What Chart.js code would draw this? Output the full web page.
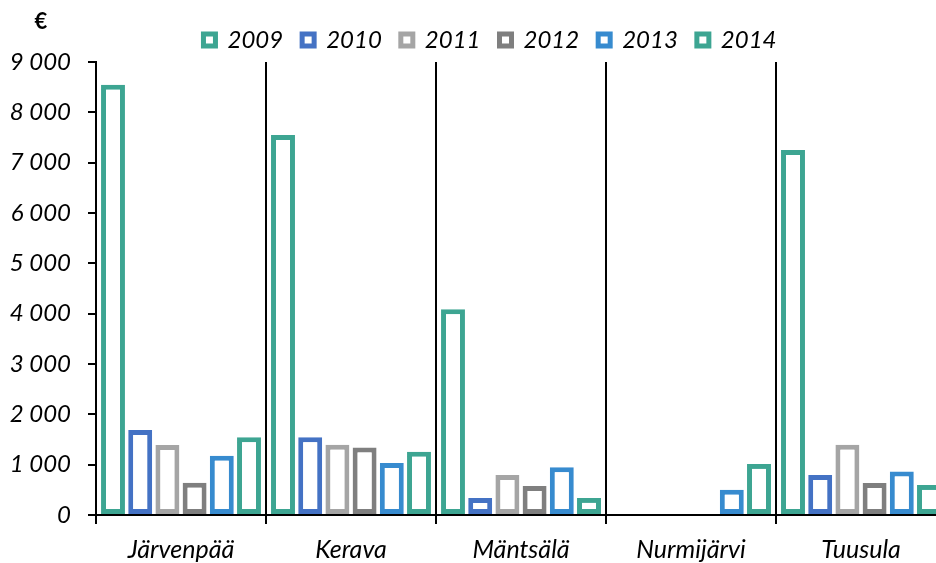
<!DOCTYPE html>
<html>
<head>
<meta charset="utf-8">
<script src="https://cdn.jsdelivr.net/npm/chart.js@4"></script>
<style>
  html, body { margin: 0; padding: 0; background: #fff; overflow: hidden; }
  #wrap { width: 960px; height: 563px; }
</style>
</head>
<body>
<div id="wrap"><canvas id="c" width="960" height="563"></canvas></div>
<script>
const categories = ['Järvenpää', 'Kerava', 'Mäntsälä', 'Nurmijärvi', 'Tuusula'];
const years = ['2009', '2010', '2011', '2012', '2013', '2014'];
const v2009 = [8550, 7550, 4090, null, 7250];
const v2010 = [1690, 1545, 340, null, 795];
const v2011 = [1390, 1395, 795, null, 1395];
const v2012 = [640, 1340, 575, null, 635];
const v2013 = [1175, 1035, 950, 500, 865];
const v2014 = [1545, 1255, 340, 1015, 597];
const yTicks = [0, 1000, 2000, 3000, 4000, 5000, 6000, 7000, 8000, 9000];
const unitLabel = '€';

const seriesValues = [v2009, v2010, v2011, v2012, v2013, v2014];
const seriesColors = ['#3da592', '#4472c4', '#a5a5a5', '#7f7f7f', '#378bcf', '#3da592'];

const FONT = 'Lato, "Open Sans", "DejaVu Sans", sans-serif';

const euroPlugin = {
  id: 'euro',
  afterLayout(chart) {
    // let the y tick labels use the full left margin instead of being clipped
    chart.scales.y.left = 0;
  },
  afterDraw(chart) {
    const {ctx, chartArea} = chart;
    ctx.save();
    ctx.font = 'bold 22px ' + FONT;
    ctx.fillStyle = '#000';
    ctx.textAlign = 'center';
    ctx.textBaseline = 'middle';
    ctx.fillText(unitLabel, chartArea.left - 55, chartArea.top - 40);
    ctx.restore();
  }
};

new Chart(document.getElementById('c'), {
  type: 'bar',
  data: {
    labels: categories,
    datasets: years.map((y, i) => ({
      label: y,
      data: seriesValues[i],
      backgroundColor: '#ffffff',
      borderColor: seriesColors[i],
      borderWidth: 5,
      borderSkipped: false,
      categoryPercentage: 0.96,
      barPercentage: 0.88
    }))
  },
  options: {
    responsive: false,
    animation: false,
    devicePixelRatio: 1,
    layout: { padding: { left: 34, right: 14, top: 9, bottom: 0 } },
    plugins: {
      tooltip: { enabled: false },
      legend: {
        position: 'top',
        labels: {
          boxWidth: 12,
          boxHeight: 12,
          padding: 19,
          color: '#000',
          font: { family: FONT, size: 24, style: 'italic' }
        }
      }
    },
    scales: {
      x: {
        z: 1,
        offset: true,
        grid: {
          offset: true,
          display: true,
          drawOnChartArea: true,
          drawTicks: true,
          tickLength: 9,
          color: '#000',
          lineWidth: 2
        },
        border: { display: true, color: '#000', width: 2 },
        ticks: {
          color: '#000',
          padding: 11,
          maxRotation: 0,
          font: { family: FONT, size: 25, style: 'italic' }
        },
        afterFit(scale) { scale.height = 48; }
      },
      y: {
        min: 0,
        max: 9000,
        afterBuildTicks(scale) { scale.ticks = yTicks.map(v => ({ value: v })); },
        grid: {
          drawOnChartArea: false,
          drawTicks: true,
          tickLength: 8,
          color: '#000',
          lineWidth: 2
        },
        border: { display: true, color: '#000', width: 2 },
        ticks: {
          color: '#000',
          padding: 17,
          font: { family: FONT, size: 24, style: 'italic' },
          callback(value) {
            return String(value).replace(/\B(?=(\d{3})+(?!\d))/g, ' ');
          }
        },
        afterFit(scale) { scale.width = 62; }
      }
    }
  },
  plugins: [euroPlugin]
});
</script>
</body>
</html>
